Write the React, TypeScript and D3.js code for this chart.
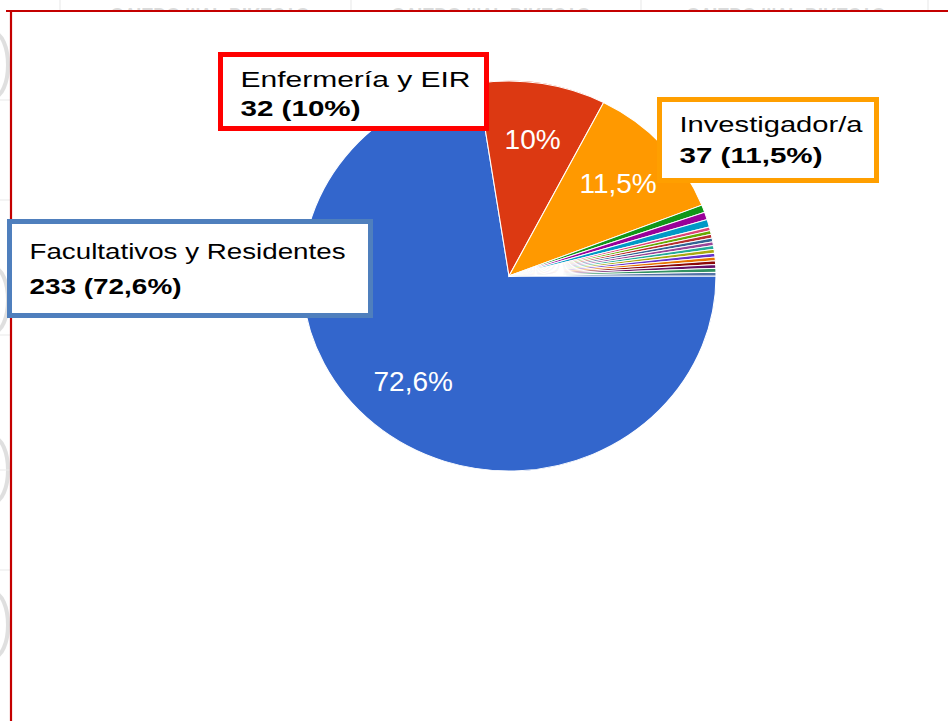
import React from "react";
import * as d3 from "d3";

// ---- data ----
const categories = [
  "Facultativos y Residentes",
  "Enfermería y EIR",
  "Investigador/a",
  "Otros 1", "Otros 2", "Otros 3", "Otros 4", "Otros 5", "Otros 6", "Otros 7",
  "Otros 8", "Otros 9", "Otros 10", "Otros 11", "Otros 12", "Otros 13", "Otros 14",
  "Otros 15", "Otros 16",
];
const values = [233, 32, 37, 2, 2, 2, 1, 1, 1, 1, 1, 1, 1, 1, 1, 1, 1, 1, 1];
const colors = [
  "#3366cc", "#dc3912", "#ff9900", "#109618", "#990099", "#0099c6", "#dd4477",
  "#66aa00", "#b82e2e", "#316395", "#994499", "#22aa99", "#aaaa11", "#6633cc",
  "#e67300", "#8b0707", "#651067", "#329262", "#5574a6",
];
// callout boxes: which slice, border colour
const calloutSlices = [0, 1, 2];
const calloutBorder = ["#4f7fbd", "#ff0000", "#ff9f00"];

const W = 948;
const H = 721;

function fmtPct(v: number, total: number) {
  const s = d3.format(".1f")((v / total) * 100).replace(".", ",");
  return (s.endsWith(",0") ? s.slice(0, -2) : s) + "%";
}

export default function App() {
  const total = d3.sum(values);
  const cx = 509;
  const cy = 276;
  const ry = 195;
  const rx = 207;
  const k = rx / ry;

  const pie = d3
    .pie<number>()
    .sort(null)
    .startAngle(Math.PI / 2)
    .endAngle(Math.PI / 2 + 2 * Math.PI);
  const arcs = pie(values);
  const arcGen = d3.arc<d3.PieArcDatum<number>>().innerRadius(0).outerRadius(ry);
  const labelArc = d3
    .arc<d3.PieArcDatum<number>>()
    .innerRadius(ry * 0.71)
    .outerRadius(ry * 0.71);

  // layout of callout boxes (x, y, w, h, line baselines, textLength line1/line2)
  const boxes = [
    { x: 9.5, y: 221.5, w: 361, h: 94, b1: 259, b2: 294, l1: 316, l2: 152 },
    { x: 220.5, y: 54.5, w: 266, h: 74, b1: 87, b2: 116, l1: 230, l2: 120 },
    { x: 659.5, y: 99.5, w: 217, h: 81, b1: 132, b2: 163, l1: 183, l2: 143 },
  ];

  return (
    <svg
      width={W}
      height={H}
      style={{ position: "absolute", left: 0, top: 0, display: "block", background: "#fff" }}
      fontFamily="'Liberation Sans', Arial, sans-serif"
    >
      <defs>
        <clipPath id="topStrip">
          <rect x={0} y={0} width={W} height={10} />
        </clipPath>
        <clipPath id="leftStrip">
          <rect x={0} y={0} width={10} height={H} />
        </clipPath>
      </defs>
      <rect x={0} y={0} width={W} height={H} fill="#fff" />

      {/* faint background remnants outside the frame */}
      <g clipPath="url(#topStrip)" opacity={0.35}>
        {[60, 351, 641, 928].map((x) => (
          <line key={x} x1={x} x2={x} y1={0} y2={10} stroke="#bbb" />
        ))}
        {[210, 491, 786].map((x) => (
          <text
            key={x}
            transform={`translate(${x},8) scale(1,-1)`}
            textAnchor="middle"
            fontSize={18}
            fontWeight="bold"
            fill="#999"
          >
            OVIEDO MVP DIRECTO
          </text>
        ))}
      </g>
      <g clipPath="url(#leftStrip)" opacity={0.3}>
        {[65, 300, 470, 625].map((y) => (
          <ellipse key={y} cx={-6} cy={y} rx={14} ry={32} fill="none" stroke="#999" strokeWidth={4} />
        ))}
        {[100, 200, 335, 470, 570].map((y) => (
          <line key={y} x1={0} x2={10} y1={y} y2={y} stroke="#bbb" />
        ))}
      </g>

      {/* frame */}
      <line x1={6} x2={W} y1={11} y2={11} stroke="#c40000" strokeWidth={2.2} />
      <line x1={11} x2={11} y1={10} y2={H} stroke="#c40000" strokeWidth={2.2} />

      {/* pie */}
      <g transform={`translate(${cx},${cy}) scale(${k},1)`}>
        {arcs.map((a, i) => (
          <path
            key={categories[i]}
            d={arcGen(a) as string}
            fill={colors[i]}
            stroke="#fff"
            strokeWidth={1}
          />
        ))}
      </g>
      {arcs.map((a, i) => {
        if (values[i] / total < 0.05) return null;
        const [lx, ly] = labelArc.centroid(a);
        return (
          <text
            key={"l" + i}
            x={cx + lx * k}
            y={cy + ly}
            dy="0.36em"
            textAnchor="middle"
            fontSize={28}
            fill="#fff"
          >
            {fmtPct(values[i], total)}
          </text>
        );
      })}

      {/* callouts */}
      {calloutSlices.map((si, j) => {
        const b = boxes[j];
        return (
          <g key={"c" + si}>
            <rect
              x={b.x}
              y={b.y}
              width={b.w}
              height={b.h}
              fill="#fff"
              stroke={calloutBorder[j]}
              strokeWidth={5}
            />
            <text
              x={b.x + 20}
              y={b.b1}
              fontSize={22}
              fill="#000"
              textLength={b.l1}
              lengthAdjust="spacingAndGlyphs"
            >
              {categories[si]}
            </text>
            <text
              x={b.x + 20}
              y={b.b2}
              fontSize={22}
              fontWeight="bold"
              fill="#000"
              textLength={b.l2}
              lengthAdjust="spacingAndGlyphs"
            >
              {`${values[si]} (${fmtPct(values[si], total)})`}
            </text>
          </g>
        );
      })}
    </svg>
  );
}
